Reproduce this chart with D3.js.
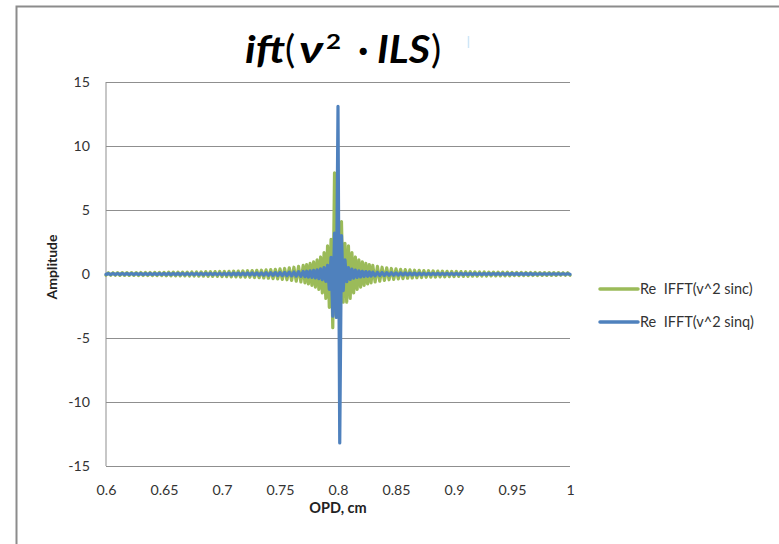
<!DOCTYPE html>
<html>
<head>
<meta charset="utf-8">
<script src="https://cdn.jsdelivr.net/npm/d3@7"></script>
<style>
  html, body { margin: 0; padding: 0; background: #fff; }
  svg { display: block; }
</style>
</head>
<body>
<svg id="chart" width="779" height="544"></svg>
<script>
// ---- data ----
const opdLeft = [
  0.600,0.602,0.604,0.606,0.608,0.610,0.612,0.614,0.616,0.618,0.620,0.622,0.624,0.626,0.628,0.630,0.632,0.634,0.636,0.638,
  0.640,0.642,0.644,0.646,0.648,0.650,0.652,0.654,0.656,0.658,0.660,0.662,0.664,0.666,0.668,0.670,0.672,0.674,0.676,0.678,
  0.680,0.682,0.684,0.686,0.688,0.690,0.692,0.694,0.696,0.698,0.700,0.702,0.704,0.706,0.708,0.710,0.712,0.714,0.716,0.718,
  0.720,0.722,0.724,0.726,0.728,0.730,0.732,0.734,0.736,0.738,0.740,0.742,0.744,0.746,0.748,0.750,0.752,0.754,0.756,0.758,
  0.760,0.762,0.764,0.766,0.768
];
const opdCenter = [
  0.7700,0.7715,0.7730,0.7745,0.7760,0.7775,0.7790,0.7805,0.7820,0.7835,0.7850,0.7865,0.7880,0.7895,0.7910,0.7925,0.7940,0.7955,0.7970,0.7985,
  0.8000,0.8015,0.8030,0.8045,0.8060,0.8075,0.8090,0.8105,0.8120,0.8135,0.8150,0.8165,0.8180,0.8195,0.8210,0.8225,0.8240,0.8255,0.8270,0.8285,
  0.8300
];
const opdRight = [
  0.832,0.834,0.836,0.838,0.840,0.842,0.844,0.846,0.848,0.850,0.852,0.854,0.856,0.858,0.860,0.862,0.864,0.866,0.868,0.870,
  0.872,0.874,0.876,0.878,0.880,0.882,0.884,0.886,0.888,0.890,0.892,0.894,0.896,0.898,0.900,0.902,0.904,0.906,0.908,0.910,
  0.912,0.914,0.916,0.918,0.920,0.922,0.924,0.926,0.928,0.930,0.932,0.934,0.936,0.938,0.940,0.942,0.944,0.946,0.948,0.950,
  0.952,0.954,0.956,0.958,0.960,0.962,0.964,0.966,0.968,0.970,0.972,0.974,0.976,0.978,0.980,0.982,0.984,0.986,0.988,0.990,
  0.992,0.994,0.996,0.998,1.000
];
// Re IFFT(v^2 sinc)
const sincLeft = [
  -0.10,0.10,-0.10,0.10,-0.10,0.11,-0.11,0.11,-0.11,0.11,
  -0.11,0.11,-0.11,0.11,-0.12,0.12,-0.12,0.12,-0.12,0.12,
  -0.13,0.13,-0.13,0.13,-0.13,0.13,-0.14,0.14,-0.14,0.14,
  -0.14,0.15,-0.15,0.15,-0.15,0.15,-0.16,0.16,-0.16,0.16,
  -0.17,0.17,-0.17,0.18,-0.18,0.18,-0.19,0.19,-0.19,0.20,
  -0.20,0.20,-0.21,0.21,-0.22,0.22,-0.23,0.23,-0.24,0.24,
  -0.25,0.26,-0.26,0.27,-0.28,0.29,-0.29,0.30,-0.31,0.32,
  -0.33,0.34,-0.36,0.37,-0.38,0.40,-0.42,0.43,-0.45,0.48,
  -0.50,0.53,-0.56,0.59,-0.62
];
const sincCenter = [
  0.67,-0.70,0.74,-0.78,0.83,-0.89,0.95,-1.03,1.11,-1.21,1.33,-1.48,1.67,-1.90,2.20,-2.60,2.70,-4.20,7.90,-3.20,
  3.00,-3.00,4.10,-2.20,2.40,-2.20,2.20,-1.90,1.67,-1.48,1.33,-1.21,1.11,-1.03,0.95,-0.89,0.83,-0.78,0.74,-0.70,
  0.67
];
const sincRight = [
  -0.62,0.59,-0.56,0.53,-0.50,
  0.48,-0.45,0.43,-0.42,0.40,-0.38,0.37,-0.36,0.34,-0.33,
  0.32,-0.31,0.30,-0.29,0.29,-0.28,0.27,-0.26,0.26,-0.25,
  0.24,-0.24,0.23,-0.23,0.22,-0.22,0.21,-0.21,0.20,-0.20,
  0.20,-0.19,0.19,-0.19,0.18,-0.18,0.18,-0.17,0.17,-0.17,
  0.16,-0.16,0.16,-0.16,0.15,-0.15,0.15,-0.15,0.15,-0.14,
  0.14,-0.14,0.14,-0.14,0.13,-0.13,0.13,-0.13,0.13,-0.13,
  0.12,-0.12,0.12,-0.12,0.12,-0.12,0.11,-0.11,0.11,-0.11,
  0.11,-0.11,0.11,-0.11,0.11,-0.10,0.10,-0.10,0.10,-0.10
];
// Re IFFT(v^2 sinq)
const sinqLeft = [
  -0.030,0.030,-0.031,0.031,-0.031,0.032,-0.032,0.032,-0.033,0.033,
  -0.033,0.034,-0.034,0.034,-0.035,0.035,-0.036,0.036,-0.037,0.037,
  -0.038,0.038,-0.038,0.039,-0.039,0.040,-0.041,0.041,-0.042,0.042,
  -0.043,0.043,-0.044,0.045,-0.045,0.046,-0.047,0.048,-0.048,0.049,
  -0.050,0.051,-0.052,0.053,-0.054,0.055,-0.056,0.057,-0.058,0.059,
  -0.060,0.061,-0.063,0.064,-0.065,0.067,-0.068,0.070,-0.071,0.073,
  -0.075,0.077,-0.079,0.081,-0.083,0.086,-0.088,0.091,-0.094,0.097,
  -0.100,0.103,-0.107,0.111,-0.115,0.120,-0.125,0.130,-0.136,0.143,
  -0.150,0.158,-0.167,0.176,-0.188
];
const sinqCenter = [
  0.20,-0.21,0.22,-0.235,0.25,-0.27,0.29,-0.31,0.33,-0.36,0.40,-0.44,0.50,-0.57,0.67,-1.20,1.30,-3.30,3.20,-3.40,
  13.10,-13.20,3.00,-1.30,1.10,-0.60,0.50,-0.43,0.38,-0.33,0.30,-0.27,0.25,-0.23,0.21,-0.20,0.19,-0.18,0.17,-0.16,
  0.15
];
const sinqRight = [
  -0.141,0.132,-0.125,0.118,-0.113,
  0.107,-0.102,0.098,-0.094,0.090,-0.087,0.083,-0.080,0.078,-0.075,
  0.073,-0.070,0.068,-0.066,0.064,-0.063,0.061,-0.059,0.058,-0.056,
  0.055,-0.054,0.052,-0.051,0.050,-0.049,0.048,-0.047,0.046,-0.045,
  0.044,-0.043,0.042,-0.042,0.041,-0.040,0.039,-0.039,0.038,-0.038,
  0.037,-0.036,0.036,-0.035,0.035,-0.034,0.034,-0.033,0.033,-0.032,
  0.032,-0.031,0.031,-0.030,0.030,-0.030,0.029,-0.029,0.028,-0.028,
  0.028,-0.027,0.027,-0.027,0.026,-0.026,0.026,-0.026,0.025,-0.025,
  0.025,-0.024,0.024,-0.024,0.024,-0.023,0.023,-0.023,0.023,-0.023
];
const seriesNames = ["Re  IFFT(v^2 sinc)", "Re  IFFT(v^2 sinq)"];
const seriesColors = ["#9BBB59", "#4F81BD"];
const xTickValues = [0.6, 0.65, 0.7, 0.75, 0.8, 0.85, 0.9, 0.95, 1];
const xTickLabels = ["0.6", "0.65", "0.7", "0.75", "0.8", "0.85", "0.9", "0.95", "1"];
const yTickValues = [-15, -10, -5, 0, 5, 10, 15];
const yTickLabels = ["-15", "-10", "-5", "0", "5", "10", "15"];

const opd = opdLeft.concat(opdCenter, opdRight);
const reSinc = sincLeft.concat(sincCenter, sincRight);
const reSinq = sinqLeft.concat(sinqCenter, sinqRight);

// ---- layout ----
const svg = d3.select("#chart");
const plot = { left: 106, right: 570, top: 82, bottom: 466 };
const font = "Lato, 'Noto Sans', sans-serif";

const x = d3.scaleLinear().domain([0.6, 1]).range([plot.left, plot.right]);
const y = d3.scaleLinear().domain([-15, 15]).range([plot.bottom, plot.top]);

// outer frame (top + left edges)
svg.append("path")
  .attr("d", "M16.5,544 L16.5,6.5 L779,6.5")
  .attr("fill", "none").attr("stroke", "#8c8c8c").attr("stroke-width", 2);

// y axis with gridlines
const yAxis = d3.axisLeft(y)
  .tickValues(yTickValues)
  .tickFormat((d, i) => yTickLabels[i])
  .tickSize(-(plot.right - plot.left))
  .tickPadding(16);
const gy = svg.append("g").attr("transform", `translate(${plot.left},0)`).call(yAxis);
gy.select(".domain").remove();
gy.selectAll(".tick line").attr("stroke", "#8f8f8f").attr("stroke-width", 1);
gy.selectAll(".tick text").attr("font-family", font).attr("font-size", 14.2).attr("fill", "#333");

// left axis line
svg.append("line")
  .attr("x1", plot.left).attr("x2", plot.left)
  .attr("y1", plot.top).attr("y2", plot.bottom)
  .attr("stroke", "#8f8f8f").attr("stroke-width", 1);

// x axis labels
const xAxis = d3.axisBottom(x)
  .tickValues(xTickValues)
  .tickFormat((d, i) => xTickLabels[i])
  .tickSize(0)
  .tickPadding(19);
const gx = svg.append("g").attr("transform", `translate(0,${plot.bottom})`).call(xAxis);
gx.select(".domain").remove();
gx.selectAll(".tick text").attr("font-family", font).attr("font-size", 14.2).attr("fill", "#333");

// series
const line = d3.line().x(d => x(d[0])).y(d => y(d[1]));
[reSinc, reSinq].forEach((vals, k) => {
  const pts = opd.map((o, i) => [o, vals[i]]);
  svg.append("path")
    .datum(pts)
    .attr("d", line)
    .attr("fill", "none")
    .attr("stroke", seriesColors[k])
    .attr("stroke-width", 3.2)
    .attr("stroke-linejoin", "round")
    .attr("stroke-linecap", "round");
});

// axis titles
svg.append("text")
  .attr("x", 338).attr("y", 513)
  .attr("text-anchor", "middle")
  .attr("font-family", font).attr("font-size", 14.5).attr("font-weight", "bold").attr("fill", "#222")
  .text("OPD, cm");
svg.append("text")
  .attr("transform", "translate(57,267) rotate(-90)")
  .attr("text-anchor", "middle")
  .attr("font-family", font).attr("font-size", 14).attr("font-weight", "bold").attr("fill", "#222")
  .text("Amplitude");

// legend
const legY = [289, 322];
seriesNames.forEach((name, k) => {
  svg.append("line")
    .attr("x1", 600).attr("x2", 638).attr("y1", legY[k]).attr("y2", legY[k])
    .attr("stroke", seriesColors[k]).attr("stroke-width", 3.5).attr("stroke-linecap", "round");
  svg.append("text")
    .attr("x", 640).attr("y", legY[k]).attr("dy", "0.35em")
    .attr("font-family", font).attr("font-size", 14.5).attr("fill", "#333")
    .attr("xml:space", "preserve")
    .style("white-space", "pre")
    .text(name);
});

// title
const tb = 63;
const titleParts = [
  { t: "ift", x: 245, y: tb, size: 38, w: "bold", s: "italic", len: 40 },
  { t: "(", x: 285, y: tb, size: 38, w: "normal", s: "normal" },
  { t: "ν", x: 299, y: tb, size: 38, w: "bold", s: "italic", len: 24 },
  { t: "2", x: 326, y: 49, size: 21, w: "bold", s: "normal", len: 15 },
  { t: "·", x: 358, y: tb, size: 38, w: "bold", s: "normal" },
  { t: "ILS", x: 377, y: tb, size: 38, w: "bold", s: "italic", len: 53 },
  { t: ")", x: 431, y: tb, size: 38, w: "normal", s: "normal" }
];
titleParts.forEach(p => {
  const t = svg.append("text")
    .attr("x", p.x).attr("y", p.y)
    .attr("font-family", "Lato, 'Noto Sans', sans-serif")
    .attr("font-size", p.size).attr("font-weight", p.w).attr("font-style", p.s)
    .attr("fill", "#000")
    .text(p.t);
  if (p.len) t.attr("textLength", p.len).attr("lengthAdjust", "spacingAndGlyphs");
});
svg.append("line")
  .attr("x1", 468.5).attr("x2", 468.5).attr("y1", 36).attr("y2", 48)
  .attr("stroke", "#cfe6f7").attr("stroke-width", 1.5);
</script>
</body>
</html>
